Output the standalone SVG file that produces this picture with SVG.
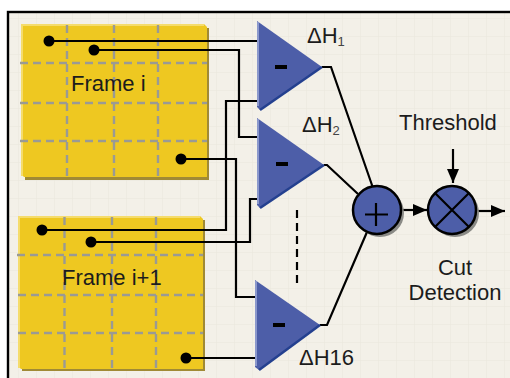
<svg xmlns="http://www.w3.org/2000/svg" width="510" height="378" viewBox="0 0 510 378">
<style>
text{font-family:"Liberation Sans",Arial,sans-serif;font-size:22px;fill:#1c1c1c}
.sub{font-size:13px;fill:#444}
.dash{fill:none;stroke:#9a9a94;stroke-width:2.4;stroke-dasharray:8 5}
.frame{fill:#eec821}
.hl{fill:none;stroke:#f5dc6c;stroke-width:2}
.shadow{fill:#a08a35}
.tri{fill:#4d5ea8}
.triL{fill:none;stroke:#8b98cc;stroke-width:2}
.triB{fill:none;stroke:#24408f;stroke-width:2.5}
.c{fill:#4d5ea8;stroke:#000;stroke-width:2.5}
.cs{fill:#8a8a86}
.g{fill:none;stroke:#000;stroke-width:2.2}
</style>
<defs>
<pattern id="grid" width="18" height="18" patternUnits="userSpaceOnUse">
<path d="M18 0H0V18" fill="none" stroke="#e9e6db" stroke-width="1"/>
</pattern>
<marker id="arr" markerUnits="userSpaceOnUse" markerWidth="15" markerHeight="12" refX="14" refY="6" orient="auto">
<path d="M0 0L14 6L0 12z" fill="#000"/>
</marker>
</defs>
<rect width="510" height="378" fill="#fff"/>
<rect x="8" y="12" width="510" height="380" fill="#f3f0e8"/>
<rect x="8" y="12" width="510" height="380" fill="url(#grid)"/>
<rect x="8" y="12" width="510" height="380" fill="none" stroke="#000" stroke-width="2.4"/>

<g id="frame-i">
<rect class="shadow" x="25" y="28" width="184" height="152"/>
<path class="frame" d="M21 24H204L207 27V177H24L21 174z"/>
<path class="hl" d="M22 176V25H204"/>
<path class="dash" d="M67 25V177M114 25V177M158 25V177M20 63H207M20 103H207M20 141H207"/>
<text x="71" y="91">Frame i</text>
</g>
<g id="frame-i1">
<rect class="shadow" x="22" y="220" width="183" height="151"/>
<path class="frame" d="M18 216H200L203 219V369H21L18 366z"/>
<path class="hl" d="M19 368V217H200"/>
<path class="dash" d="M64.500 217V369M112 217V369M156 217V369M17 255H203M18 295H203M18 333H203"/>
<text x="62" y="285">Frame i+1</text>
</g>

<g id="connectors">
<g class="g">
<path d="M49 41H258"/>
<path d="M94 50H239V137H258"/>
<path d="M181 159H236V297H256"/>
<path d="M42 230H226V101H258"/>
<path d="M91 242H250V199H258"/>
<path d="M186 358H256"/>
<path d="M322 67H331L373 188"/>
<path d="M324 165H327L358 194"/>
<path d="M320 325H327L367 232"/>
<path d="M297 210V283" stroke-dasharray="8 5"/>
<path d="M401 210H427" marker-end="url(#arr)"/>
<path d="M477 211H505" marker-end="url(#arr)"/>
<path d="M453 149V183" marker-end="url(#arr)"/>
</g>
<g fill="#000">
<circle cx="49" cy="41" r="5.500"/>
<circle cx="94" cy="50" r="5.500"/>
<circle cx="181" cy="159" r="5.500"/>
<circle cx="42" cy="230" r="5.500"/>
<circle cx="91" cy="242" r="5.500"/>
<circle cx="186" cy="358" r="5.500"/>
</g>
</g>

<g id="sub-1">
<path class="tri" d="M257 21L322 67L260 110L257 107z"/>
<path class="triL" d="M258 22V106"/>
<path class="triB" d="M322 67L260 110"/>
<rect x="275" y="65" width="12" height="4" fill="#000"/>
<text x="307" y="43">ΔH<tspan class="sub" dy="3">1</tspan></text>
</g>
<g id="sub-2">
<path class="tri" d="M257 118L324 165L260 208L257 205z"/>
<path class="triL" d="M258 119V204"/>
<path class="triB" d="M324 165L260 208"/>
<rect x="276" y="162" width="12" height="4" fill="#000"/>
<text x="302" y="132">ΔH<tspan class="sub" dy="3">2</tspan></text>
</g>
<g id="sub-16">
<path class="tri" d="M255 280L320 325L259 370L255 367z"/>
<path class="triL" d="M256 281V366"/>
<path class="triB" d="M320 325L259 370"/>
<rect x="273" y="323" width="12" height="4" fill="#000"/>
<text x="299" y="365">ΔH16</text>
</g>
<g id="sum">
<circle class="cs" cx="380" cy="213" r="24"/>
<circle class="c" cx="377" cy="210" r="24"/>
<path class="g" d="M376 203V226M365 214.500H388"/>
</g>
<g id="mult">
<circle class="cs" cx="455" cy="213" r="24"/>
<circle class="c" cx="452" cy="210" r="24"/>
<path class="g" d="M435 193L469 227M469 193L435 227"/>
</g>
<g id="labels">
<text x="399" y="130">Threshold</text>
<text x="455" y="275" text-anchor="middle">Cut</text>
<text x="455" y="300" text-anchor="middle">Detection</text>
</g>
</svg>
